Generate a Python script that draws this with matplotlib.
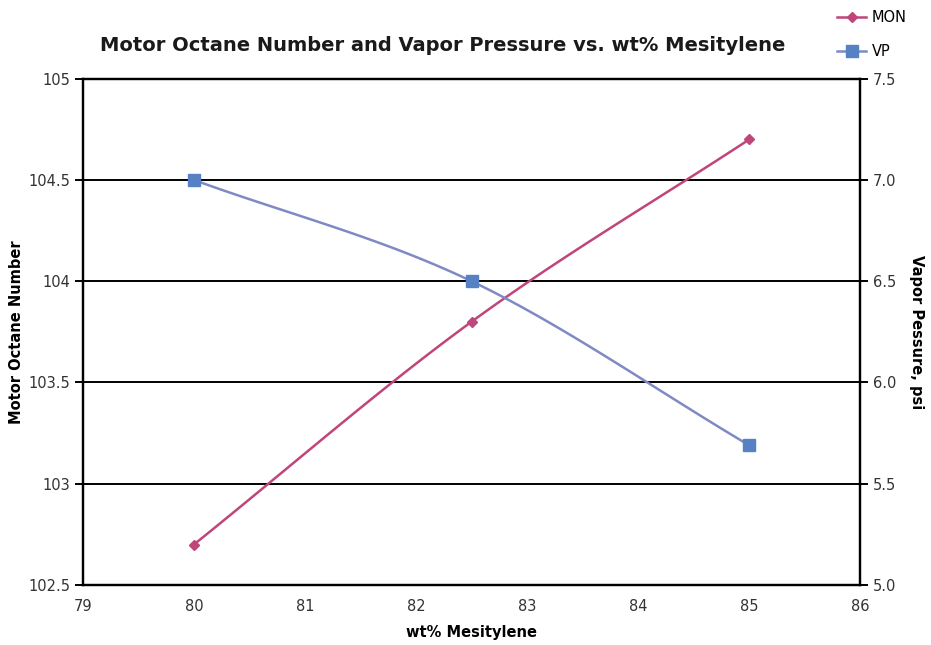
import numpy as np
import matplotlib
matplotlib.use("Agg")
import matplotlib.pyplot as plt
from matplotlib.lines import Line2D

wt = [80, 82.5, 85]
mon = [102.7, 103.8, 104.7]
vp = [7.0, 6.5, 5.69]
x_ticks = [79, 80, 81, 82, 83, 84, 85, 86]
left_ticks = [102.5, 103, 103.5, 104, 104.5, 105]
left_labels = ["102.5", "103", "103.5", "104", "104.5", "105"]
right_ticks = [5.0, 5.5, 6.0, 6.5, 7.0, 7.5]
right_labels = ["5.0", "5.5", "6.0", "6.5", "7.0", "7.5"]

MON_C = "#c0457a"
VP_LINE = "#7f8ac4"
VP_MARK = "#5682c4"


def smooth(xs, ys, n=60):
    xs = np.asarray(xs, float); ys = np.asarray(ys, float)
    P = np.column_stack([xs, ys])
    P = np.vstack([2 * P[0] - P[1], P, 2 * P[-1] - P[-2]])
    out = []
    for i in range(1, len(P) - 2):
        p0, p1, p2, p3 = P[i - 1], P[i], P[i + 1], P[i + 2]
        t = np.linspace(0, 1, n)[:, None]
        seg = 0.5 * ((2 * p1) + (-p0 + p2) * t + (2 * p0 - 5 * p1 + 4 * p2 - p3) * t ** 2
                     + (-p0 + 3 * p1 - 3 * p2 + p3) * t ** 3)
        out.append(seg)
    s = np.vstack(out)
    return s[:, 0], s[:, 1]


fig = plt.figure(figsize=(9.31, 6.45), dpi=100)
ax = fig.add_axes([0.089, 0.093, 0.835, 0.785])
ax2 = ax.twinx()

ax.set_xlim(79, 86)
ax.set_ylim(102.5, 105)
ax2.set_ylim(5.0, 7.5)

for yv in left_ticks[1:-1]:
    ax.axhline(yv, color="black", lw=1.4, zorder=1)

sx, sy = smooth(wt, mon)
ax.plot(sx, sy, color=MON_C, lw=1.8, zorder=3)
ax.plot(wt, mon, ls="none", marker="D", ms=5.5, color=MON_C, zorder=4)

vx, vy = smooth(wt, vp)
ax2.plot(vx, vy, color=VP_LINE, lw=1.8, zorder=3)
ax2.plot(wt, vp, ls="none", marker="s", ms=8, color=VP_MARK, zorder=4)

ax.set_xticks(x_ticks)
ax.set_xticklabels([str(v) for v in x_ticks])
ax.set_yticks(left_ticks)
ax.set_yticklabels(left_labels)
ax2.set_yticks(right_ticks)
ax2.set_yticklabels(right_labels)

ax.tick_params(axis="x", length=0, pad=10, labelsize=10.5, labelcolor="#333333")
ax.tick_params(axis="y", length=6, width=1.4, direction="out", pad=3, labelsize=10.5, labelcolor="#333333")
ax2.tick_params(axis="y", length=6, width=1.4, direction="out", pad=3, labelsize=10.5, labelcolor="#333333")

for a in (ax, ax2):
    for sp in a.spines.values():
        sp.set_linewidth(1.6)
        sp.set_color("black")

ax.set_xlabel("wt% Mesitylene", fontsize=10.5, fontweight="bold")
ax.set_ylabel("Motor Octane Number", fontsize=10.5, fontweight="bold")
ax2.set_ylabel("Vapor Pessure, psi", fontsize=10.5, fontweight="bold", rotation=270, va="center")
ax.xaxis.set_label_coords(0.5, -0.078)
ax.yaxis.set_label_coords(-0.076, 0.5)
ax2.yaxis.set_label_coords(1.073, 0.5)

fig.text(0.476, 0.93, "Motor Octane Number and Vapor Pressure vs. wt% Mesitylene",
         ha="center", va="center", fontsize=14, fontweight="bold", color="#1a1a1a")

handles = [Line2D([0], [0], color=MON_C, lw=1.8, marker="D", ms=5.5),
           Line2D([0], [0], color=VP_LINE, lw=1.8, marker="s", ms=8, markerfacecolor=VP_MARK,
                  markeredgecolor=VP_MARK)]
fig.legend(handles, ["MON", "VP"], loc="upper left", bbox_to_anchor=(0.885, 1.005),
           frameon=False, fontsize=10.5, handlelength=2.0, labelspacing=1.3, handletextpad=0.4)

fig.savefig("out.png", dpi=100)
